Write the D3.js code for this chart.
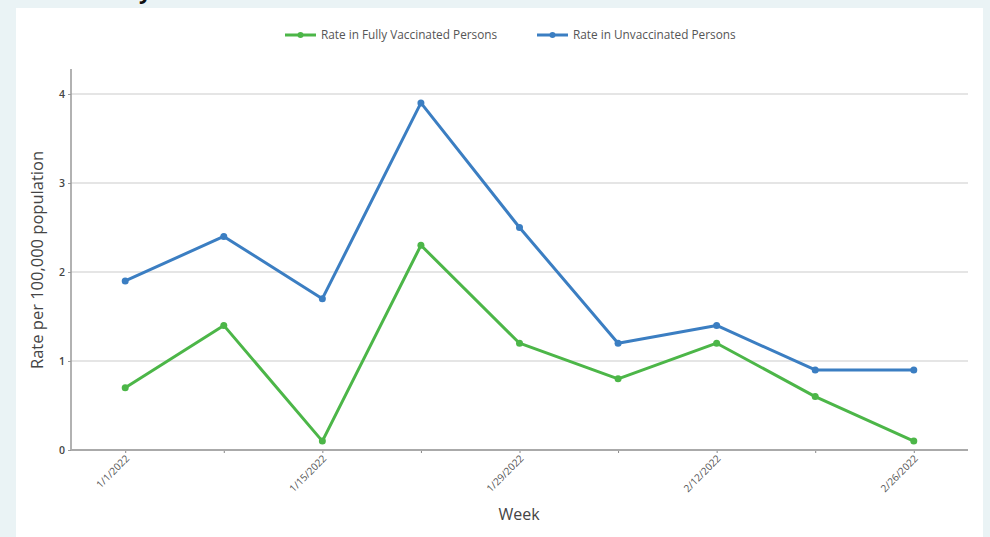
<!DOCTYPE html>
<html>
<head>
<meta charset="utf-8">
<script src="https://cdn.jsdelivr.net/npm/d3@7"></script>
<style>
  body { margin: 0; background: #eaf3f5; }
  svg { display: block; font-family: "Open Sans", sans-serif; }
</style>
</head>
<body>
<svg id="chart" width="990" height="537"></svg>
<script>
// weeks and rates
var weeks = ['1/1/2022','1/8/2022','1/15/2022','1/22/2022','1/29/2022','2/5/2022','2/12/2022','2/19/2022','2/26/2022'];
var labelledWeeks = ['1/1/2022','1/15/2022','1/29/2022','2/12/2022','2/26/2022'];
var vaccinated = [0.7, 1.4, 0.1, 2.3, 1.2, 0.8, 1.2, 0.6, 0.1];
var unvaccinated = [1.9, 2.4, 1.7, 3.9, 2.5, 1.2, 1.4, 0.9, 0.9];
var yTicks = [0, 1, 2, 3, 4];
var seriesNames = ['Rate in Fully Vaccinated Persons', 'Rate in Unvaccinated Persons'];
var colors = ['#4cb648', '#3b7ec2'];

var svg = d3.select('#chart');

// white panel
svg.append('rect')
	.attr('x', 16).attr('y', 8)
	.attr('width', 967).attr('height', 540)
	.attr('fill', '#fff');

// bit of the title cut off at top
svg.append('text')
	.attr('x', 139).attr('y', -1)
	.attr('font-size', 22).attr('font-weight', 'bold')
	.attr('fill', '#111')
	.text('y');

var plotLeft = 71, plotRight = 968, plotTop = 69, plotBottom = 450;

var x = d3.scalePoint().domain(weeks).range([plotLeft, plotRight]).padding(0.55);
var y = d3.scaleLinear().domain([0, 4]).range([plotBottom, 94]);

// gridlines
svg.append('g')
	.selectAll('line')
	.data(yTicks.slice(1))
	.enter().append('line')
		.attr('x1', plotLeft).attr('x2', plotRight)
		.attr('y1', (d) => y(d)).attr('y2', (d) => y(d))
		.attr('stroke', '#dcdcdc')
		.attr('stroke-width', 1.5);

// y axis
var yAxis = svg.append('g')
	.attr('transform', 'translate(' + plotLeft + ',0)')
	.call(d3.axisLeft(y).tickValues(yTicks).tickSize(3).tickFormat(d3.format('d')));
yAxis.select('.domain').remove();
yAxis.selectAll('line').attr('stroke', '#999');
yAxis.selectAll('text')
	.attr('fill', '#444')
	.attr('font-size', 10.5)
	.attr('font-weight', 600)
	.attr('font-family', '"Open Sans", sans-serif');
svg.append('line')
	.attr('x1', plotLeft).attr('x2', plotLeft)
	.attr('y1', plotTop).attr('y2', plotBottom)
	.attr('stroke', '#999').attr('stroke-width', 1.5);

// x axis
var xAxis = svg.append('g')
	.attr('transform', 'translate(0,' + plotBottom + ')')
	.call(d3.axisBottom(x).tickSize(3).tickSizeOuter(0)
		.tickFormat((d) => labelledWeeks.indexOf(d) >= 0 ? d : ''));
xAxis.select('.domain').remove();
xAxis.selectAll('line').attr('stroke', '#888');
xAxis.selectAll('text')
	.attr('fill', '#555')
	.attr('font-size', 10)
	.attr('font-family', '"Open Sans", sans-serif')
	.attr('text-anchor', 'end')
	.attr('dy', 0)
	.attr('transform', 'translate(0,5) rotate(-45)');
svg.append('line')
	.attr('x1', plotLeft).attr('x2', plotRight)
	.attr('y1', plotBottom).attr('y2', plotBottom)
	.attr('stroke', '#aaa').attr('stroke-width', 2);

// axis titles
svg.append('text')
	.attr('transform', 'translate(43,260) rotate(-90)')
	.attr('text-anchor', 'middle')
	.attr('font-size', 16.5)
	.attr('fill', '#444')
	.text('Rate per 100,000 population');

svg.append('text')
	.attr('x', 519).attr('y', 520)
	.attr('text-anchor', 'middle')
	.attr('font-size', 16)
	.attr('fill', '#444')
	.text('Week');

// lines
var line = d3.line()
	.x((d, i) => x(weeks[i]))
	.y((d) => y(d));

[vaccinated, unvaccinated].forEach(function (vals, k) {
	svg.append('path')
		.attr('d', line(vals))
		.attr('fill', 'none')
		.attr('stroke', colors[k])
		.attr('stroke-width', 3)
		.attr('stroke-linejoin', 'round');
	svg.append('g')
		.selectAll('circle')
		.data(vals)
		.enter().append('circle')
			.attr('cx', (d, i) => x(weeks[i]))
			.attr('cy', (d) => y(d))
			.attr('r', 3.5)
			.attr('fill', colors[k]);
});

// legend
var legendX = [285, 537];
seriesNames.forEach(function (name, k) {
	var g = svg.append('g').attr('transform', 'translate(' + legendX[k] + ',35)');
	g.append('line')
		.attr('x1', 0).attr('x2', 31)
		.attr('stroke', colors[k]).attr('stroke-width', 3);
	g.append('circle')
		.attr('cx', 15.5).attr('r', 3)
		.attr('fill', colors[k]);
	g.append('text')
		.attr('x', 36).attr('y', 4)
		.attr('font-size', 11.8)
		.attr('fill', '#555')
		.text(name);
});
</script>
</body>
</html>
